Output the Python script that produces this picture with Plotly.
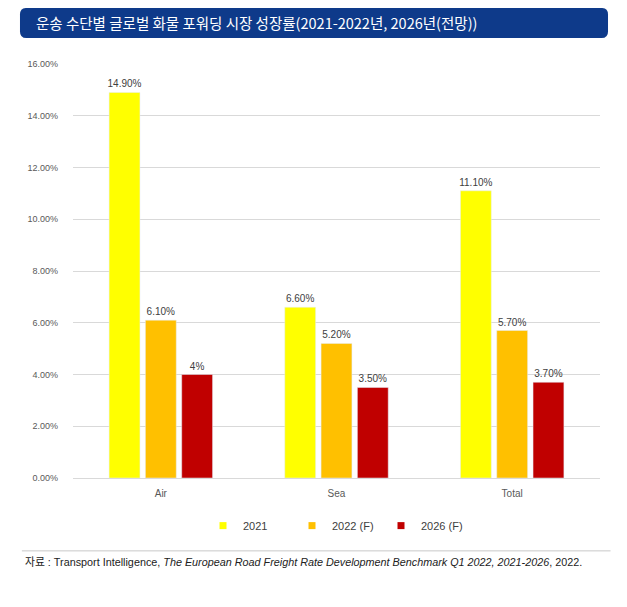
import plotly.graph_objects as go

# 운송 수단별 성장률
categories = ["Air", "Sea", "Total"]
series_names = ["2021", "2022 (F)", "2026 (F)"]
growth_2021 = [0.149, 0.066, 0.111]
growth_2022 = [0.061, 0.052, 0.057]
growth_2026 = [0.04, 0.035, 0.037]
labels_2021 = ["14.90%", "6.60%", "11.10%"]
labels_2022 = ["6.10%", "5.20%", "5.70%"]
labels_2026 = ["4%", "3.50%", "3.70%"]

colors = ["#FFFF00", "#FFC000", "#C00000"]
font_main = "Liberation Sans Narrow, Liberation Sans, Arial, Noto Sans CJK KR, sans-serif"

fig = go.Figure()
for name, vals, labs, col in zip(series_names,
                                 [growth_2021, growth_2022, growth_2026],
                                 [labels_2021, labels_2022, labels_2026],
                                 colors):
    fig.add_trace(go.Bar(
        x=categories, y=vals, name=name, marker_color=col,
        text=labs, textposition="outside", constraintext="none",
        textfont=dict(size=10, color="#404040", family=font_main),
        cliponaxis=False, showlegend=False,
    ))
    # small square legend keys
    fig.add_trace(go.Scatter(
        x=[None], y=[None], mode="markers", name=name,
        marker=dict(symbol="square", size=7, color=col),
    ))

# title bar (rounded)
x0, x1 = -0.1006, 1.0152
y0, y1 = 1.0628, 1.1353
rx, ry = 0.012, 0.016
path = (f"M {x0+rx},{y1} L {x1-rx},{y1} Q {x1},{y1} {x1},{y1-ry} "
        f"L {x1},{y0+ry} Q {x1},{y0} {x1-rx},{y0} L {x0+rx},{y0} "
        f"Q {x0},{y0} {x0},{y0+ry} L {x0},{y1-ry} Q {x0},{y1} {x0+rx},{y1} Z")
fig.add_shape(type="path", path=path, xref="paper", yref="paper",
              fillcolor="#0E3A8A", line=dict(width=0), layer="above")
fig.add_annotation(text="운송 수단별 글로벌 화물 포워딩 시장 성장률(2021-2022년, 2026년(전망))",
                   xref="paper", yref="paper", x=-0.0740, y=(y0 + y1) / 2,
                   xanchor="left", yanchor="middle", showarrow=False,
                   font=dict(size=14.5, color="white", family="Noto Sans CJK KR"))

# separator + source
fig.add_shape(type="line", xref="paper", yref="paper",
              x0=-0.097, x1=1.02, y0=-0.176, y1=-0.176,
              line=dict(color="#C8C8C8", width=1))
fig.add_annotation(
    text="자료 : Transport Intelligence, <i>The European Road Freight Rate Development Benchmark Q1 2022, 2021-2026</i>, 2022.",
    xref="paper", yref="paper", x=-0.0955, y=-0.203,
    xanchor="left", yanchor="middle", showarrow=False,
    font=dict(size=10.8, color="#222222", family=font_main))

fig.update_layout(
    width=619, height=599,
    margin=dict(l=65, r=27, t=56, b=129),
    paper_bgcolor="white", plot_bgcolor="white",
    barmode="group", bargap=0.38, bargroupgap=0.15,
    showlegend=True,
    legend=dict(orientation="h", x=0.5, xanchor="center", y=-0.115, yanchor="middle",
                font=dict(size=11, color="#404040", family=font_main),
                traceorder="normal", entrywidth=44, itemwidth=30),
    font=dict(family=font_main),
)
fig.update_yaxes(range=[0, 0.16], dtick=0.02, tickformat=".2%",
                 gridcolor="#D9D9D9", gridwidth=1, zeroline=False,
                 showline=False, ticks="", ticklabelstandoff=14,
                 tickfont=dict(size=9, color="#595959"))
fig.update_xaxes(showline=True, linecolor="#D9D9D9", ticks="", ticklabelstandoff=6,
                 tickfont=dict(size=10, color="#595959"))

fig.write_html("out.html")
